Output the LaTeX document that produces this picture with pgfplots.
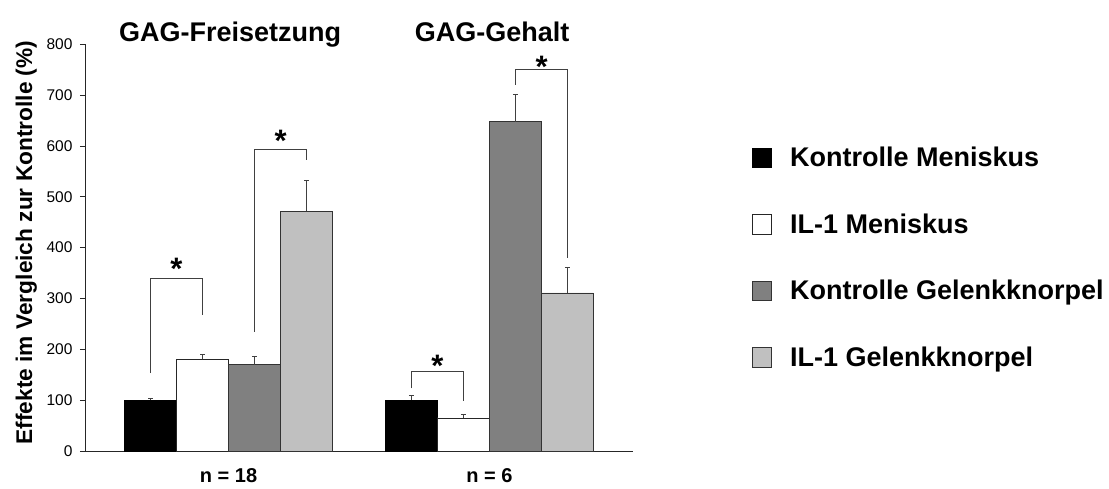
\documentclass[border=0pt]{standalone}
\usepackage{pgfplots}
\pgfplotsset{compat=1.18}
\usepackage{fontspec}
\setmainfont{Liberation Sans}
\definecolor{dgray}{HTML}{808080}
\definecolor{lgray}{HTML}{C0C0C0}
\definecolor{lcol}{HTML}{404040}
\begin{document}
\begin{tikzpicture}
\begin{axis}[
  name=main,
  scale only axis, width=548pt, height=406.7pt,
  xmin=-0.55, xmax=1.55, ymin=0, ymax=800,
  axis x line=bottom, axis y line=left,
  axis line style={-, line width=0.8pt, draw=black!85},
  ytick={0,100,...,800},
  xtick={0,1}, xticklabels={n = 18, n = 6},
  x tick style={draw=none},
  y tick style={line width=0.8pt, draw=black!85},
  major tick length=5pt, tick align=outside,
  /pgf/number format/assume math mode=true,
  yticklabel style={font=\fontsize{15.5}{17}\selectfont, anchor=east, xshift=-4pt},
  xticklabel style={font=\fontsize{20}{24}\selectfont\bfseries, anchor=base, inner sep=0pt, yshift=-26pt},
  ylabel={Effekte im Vergleich zur Kontrolle (\%)},
  ylabel style={font=\fontsize{22.7}{26}\selectfont\bfseries, at={(axis description cs:-0.0967,0.5127)}, anchor=base},
  clip=false,
  ybar=0pt, bar width=52pt,
  legend image code/.code={\draw[#1, line width=0.7pt] (0pt,-9.75pt) rectangle (19.5pt,9.75pt);},
  legend style={at={(axis description cs:1.2165,0.7474)}, anchor=north west, draw=none, fill=none,
    font=\fontsize{27}{32}\selectfont\bfseries, row sep=45.5pt, inner sep=0pt,
    nodes={inner sep=0pt}, column sep=18pt},
  legend cell align=left,
  error bars/y dir=plus, error bars/y explicit,
  error bars/error bar style={line width=0.8pt, draw=lcol},
  error bars/error mark options={rotate=90, mark size=2.5pt, line width=0.8pt, draw=lcol},
]
\addplot[fill=black, draw=black, line width=0.7pt]
  coordinates {(0,100) +- (0,3) (1,100) +- (0,9)};
\addlegendentry{Kontrolle Meniskus}
\addplot[fill=white, draw=black!85, line width=0.7pt]
  coordinates {(0,180) +- (0,10) (1,65) +- (0,7)};
\addlegendentry{IL-1 Meniskus}
\addplot[fill=dgray, draw=black!80, line width=0.7pt]
  coordinates {(0,170) +- (0,16) (1,648) +- (0,53)};
\addlegendentry{Kontrolle Gelenkknorpel}
\addplot[fill=lgray, draw=black!80, line width=0.7pt]
  coordinates {(0,472) +- (0,60) (1,311) +- (0,51)};
\addlegendentry{IL-1 Gelenkknorpel}
% significance brackets
\addplot[sharp plot, lcol, line width=0.8pt, forget plot, no markers, fill=none] coordinates {(-0.3,153) (-0.3,340) (-0.1,340) (-0.1,268)};
\addplot[sharp plot, lcol, line width=0.8pt, forget plot, no markers, fill=none] coordinates {(0.1,235) (0.1,594) (0.3,594) (0.3,572)};
\addplot[sharp plot, lcol, line width=0.8pt, forget plot, no markers, fill=none] coordinates {(0.7,123) (0.7,157) (0.9,157) (0.9,98)};
\addplot[sharp plot, lcol, line width=0.8pt, forget plot, no markers, fill=none] coordinates {(1.1,720) (1.1,751) (1.3,751) (1.3,379)};
\node[anchor=base, font=\fontsize{31}{34}\selectfont\bfseries, inner sep=0pt] at (axis cs:-0.2,337) {*};
\node[anchor=base, font=\fontsize{31}{34}\selectfont\bfseries, inner sep=0pt] at (axis cs:0.2,589) {*};
\node[anchor=base, font=\fontsize{31}{34}\selectfont\bfseries, inner sep=0pt] at (axis cs:0.8,146) {*};
\node[anchor=base, font=\fontsize{31}{34}\selectfont\bfseries, inner sep=0pt] at (axis cs:1.2,734) {*};
% titles
\node[anchor=base, font=\fontsize{27}{32}\selectfont\bfseries, inner sep=0pt] at (axis cs:0.006,805) {GAG-Freisetzung};
\node[anchor=base, font=\fontsize{27}{32}\selectfont\bfseries, inner sep=0pt] at (axis cs:1.01,805) {GAG-Gehalt};
\end{axis}
\pgfresetboundingbox
\path[use as bounding box] (main.south west) ++(-85pt,-37pt) rectangle ++(1109pt,488pt);
\end{tikzpicture}
\end{document}
